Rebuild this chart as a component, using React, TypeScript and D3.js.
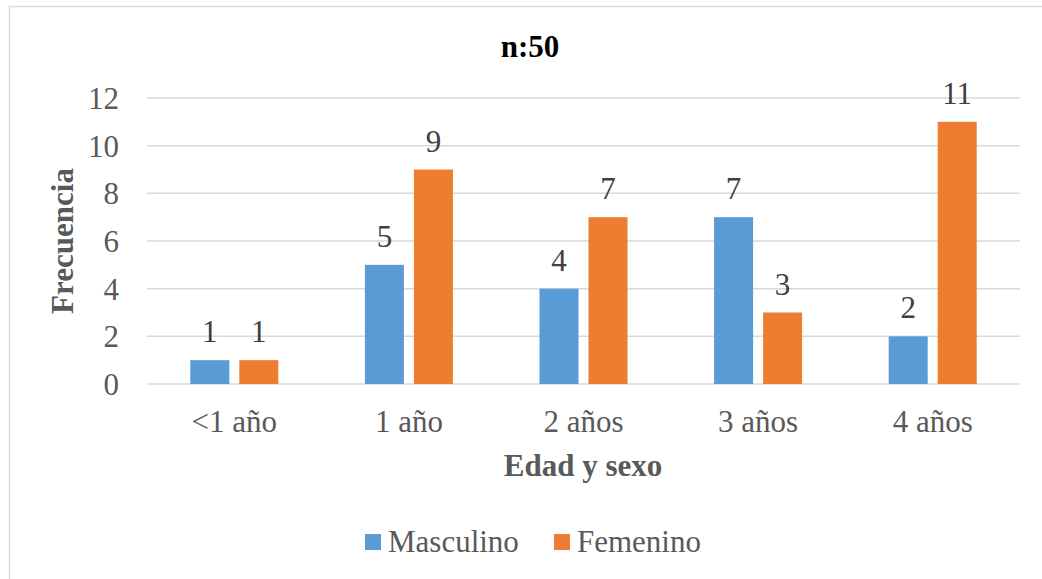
import React, { useEffect, useRef } from 'react';
import * as d3 from 'd3';

const categories = ['<1 año', '1 año', '2 años', '3 años', '4 años'];
const seriesNames = ['Masculino', 'Femenino'];
const masculino = [1, 5, 4, 7, 2];
const femenino = [1, 9, 7, 3, 11];
const yTicks = [0, 2, 4, 6, 8, 10, 12];

const colors = ['#5b9bd5', '#ed7d31'];
const FONT = "'Liberation Serif', 'Times New Roman', Times, serif";

export default function App() {
  const svgRef = useRef<SVGSVGElement>(null);

  useEffect(() => {
    if (!svgRef.current) return;
    const svg = d3.select(svgRef.current);
    svg.selectAll('*').remove();

    const plot = { left: 147, right: 1020, top: 98, bottom: 384 };

    // chart border
    svg.append('rect')
      .attr('x', 9.5).attr('y', 6.5)
      .attr('width', 1040).attr('height', 600)
      .attr('fill', 'white')
      .attr('stroke', '#d9d9d9')
      .attr('stroke-width', 1.5);

    const x0 = d3.scaleBand<string>()
      .domain(categories)
      .range([plot.left, plot.right])
      .padding(0);

    const x1 = d3.scaleBand<string>()
      .domain(seriesNames)
      .range([0, x0.bandwidth()])
      .paddingInner(0.204)
      .paddingOuter(0.883);

    const y = d3.scaleLinear().domain([0, 12]).range([plot.bottom, plot.top]);

    // gridlines
    svg.append('g')
      .selectAll('line')
      .data(yTicks)
      .join('line')
      .attr('x1', plot.left).attr('x2', plot.right)
      .attr('y1', d => y(d)).attr('y2', d => y(d))
      .attr('stroke', '#d9d9d9')
      .attr('stroke-width', 1.5);

    const g = svg.append('g')
      .attr('font-family', FONT)
      .attr('font-size', 31);

    // y tick labels
    g.append('g')
      .selectAll('text')
      .data(yTicks)
      .join('text')
      .attr('x', 119)
      .attr('y', d => y(d))
      .attr('dy', '0.35em')
      .attr('text-anchor', 'end')
      .attr('fill', '#595959')
      .text(d => d);

    const rows = categories.map((c, i) => ({ cat: c, values: [masculino[i], femenino[i]] }));

    const group = g.append('g')
      .selectAll('g')
      .data(rows)
      .join('g')
      .attr('transform', d => `translate(${x0(d.cat)},0)`);

    group.selectAll('rect')
      .data(d => d.values.map((v, j) => ({ key: seriesNames[j], v, j })))
      .join('rect')
      .attr('x', d => x1(d.key)!)
      .attr('width', x1.bandwidth())
      .attr('y', d => y(d.v))
      .attr('height', d => y(0) - y(d.v))
      .attr('fill', d => colors[d.j]);

    // data labels
    group.selectAll('text')
      .data(d => d.values.map((v, j) => ({ key: seriesNames[j], v })))
      .join('text')
      .attr('x', d => x1(d.key)! + x1.bandwidth() / 2)
      .attr('y', d => y(d.v) - 18)
      .attr('text-anchor', 'middle')
      .attr('fill', '#404040')
      .text(d => d.v);

    // category labels
    g.append('g')
      .selectAll('text')
      .data(categories)
      .join('text')
      .attr('x', d => x0(d)! + x0.bandwidth() / 2)
      .attr('y', 432)
      .attr('text-anchor', 'middle')
      .attr('fill', '#595959')
      .text(d => d);

    // title
    g.append('text')
      .attr('x', 530).attr('y', 57)
      .attr('text-anchor', 'middle')
      .attr('fill', '#000')
      .attr('font-weight', 'bold')
      .text('n:50');

    // axis titles
    g.append('text')
      .attr('x', 583).attr('y', 476)
      .attr('text-anchor', 'middle')
      .attr('fill', '#595959')
      .attr('font-weight', 'bold')
      .text('Edad y sexo');

    g.append('text')
      .attr('transform', `translate(73,${(plot.top + plot.bottom) / 2}) rotate(-90)`)
      .attr('text-anchor', 'middle')
      .attr('fill', '#595959')
      .attr('font-weight', 'bold')
      .text('Frecuencia');

    // legend
    const legendX = [365, 554];
    const legend = g.append('g')
      .selectAll('g')
      .data(seriesNames)
      .join('g')
      .attr('transform', (d, i) => `translate(${legendX[i]},534)`);

    legend.append('rect')
      .attr('width', 16).attr('height', 16)
      .attr('fill', (d, i) => colors[i]);

    legend.append('text')
      .attr('x', 23).attr('y', 18)
      .attr('fill', '#595959')
      .text(d => d);
  }, []);

  return (
    <svg
      ref={svgRef}
      width={1042}
      height={579}
      style={{ position: 'absolute', left: 0, top: 0, background: 'white' }}
    />
  );
}
